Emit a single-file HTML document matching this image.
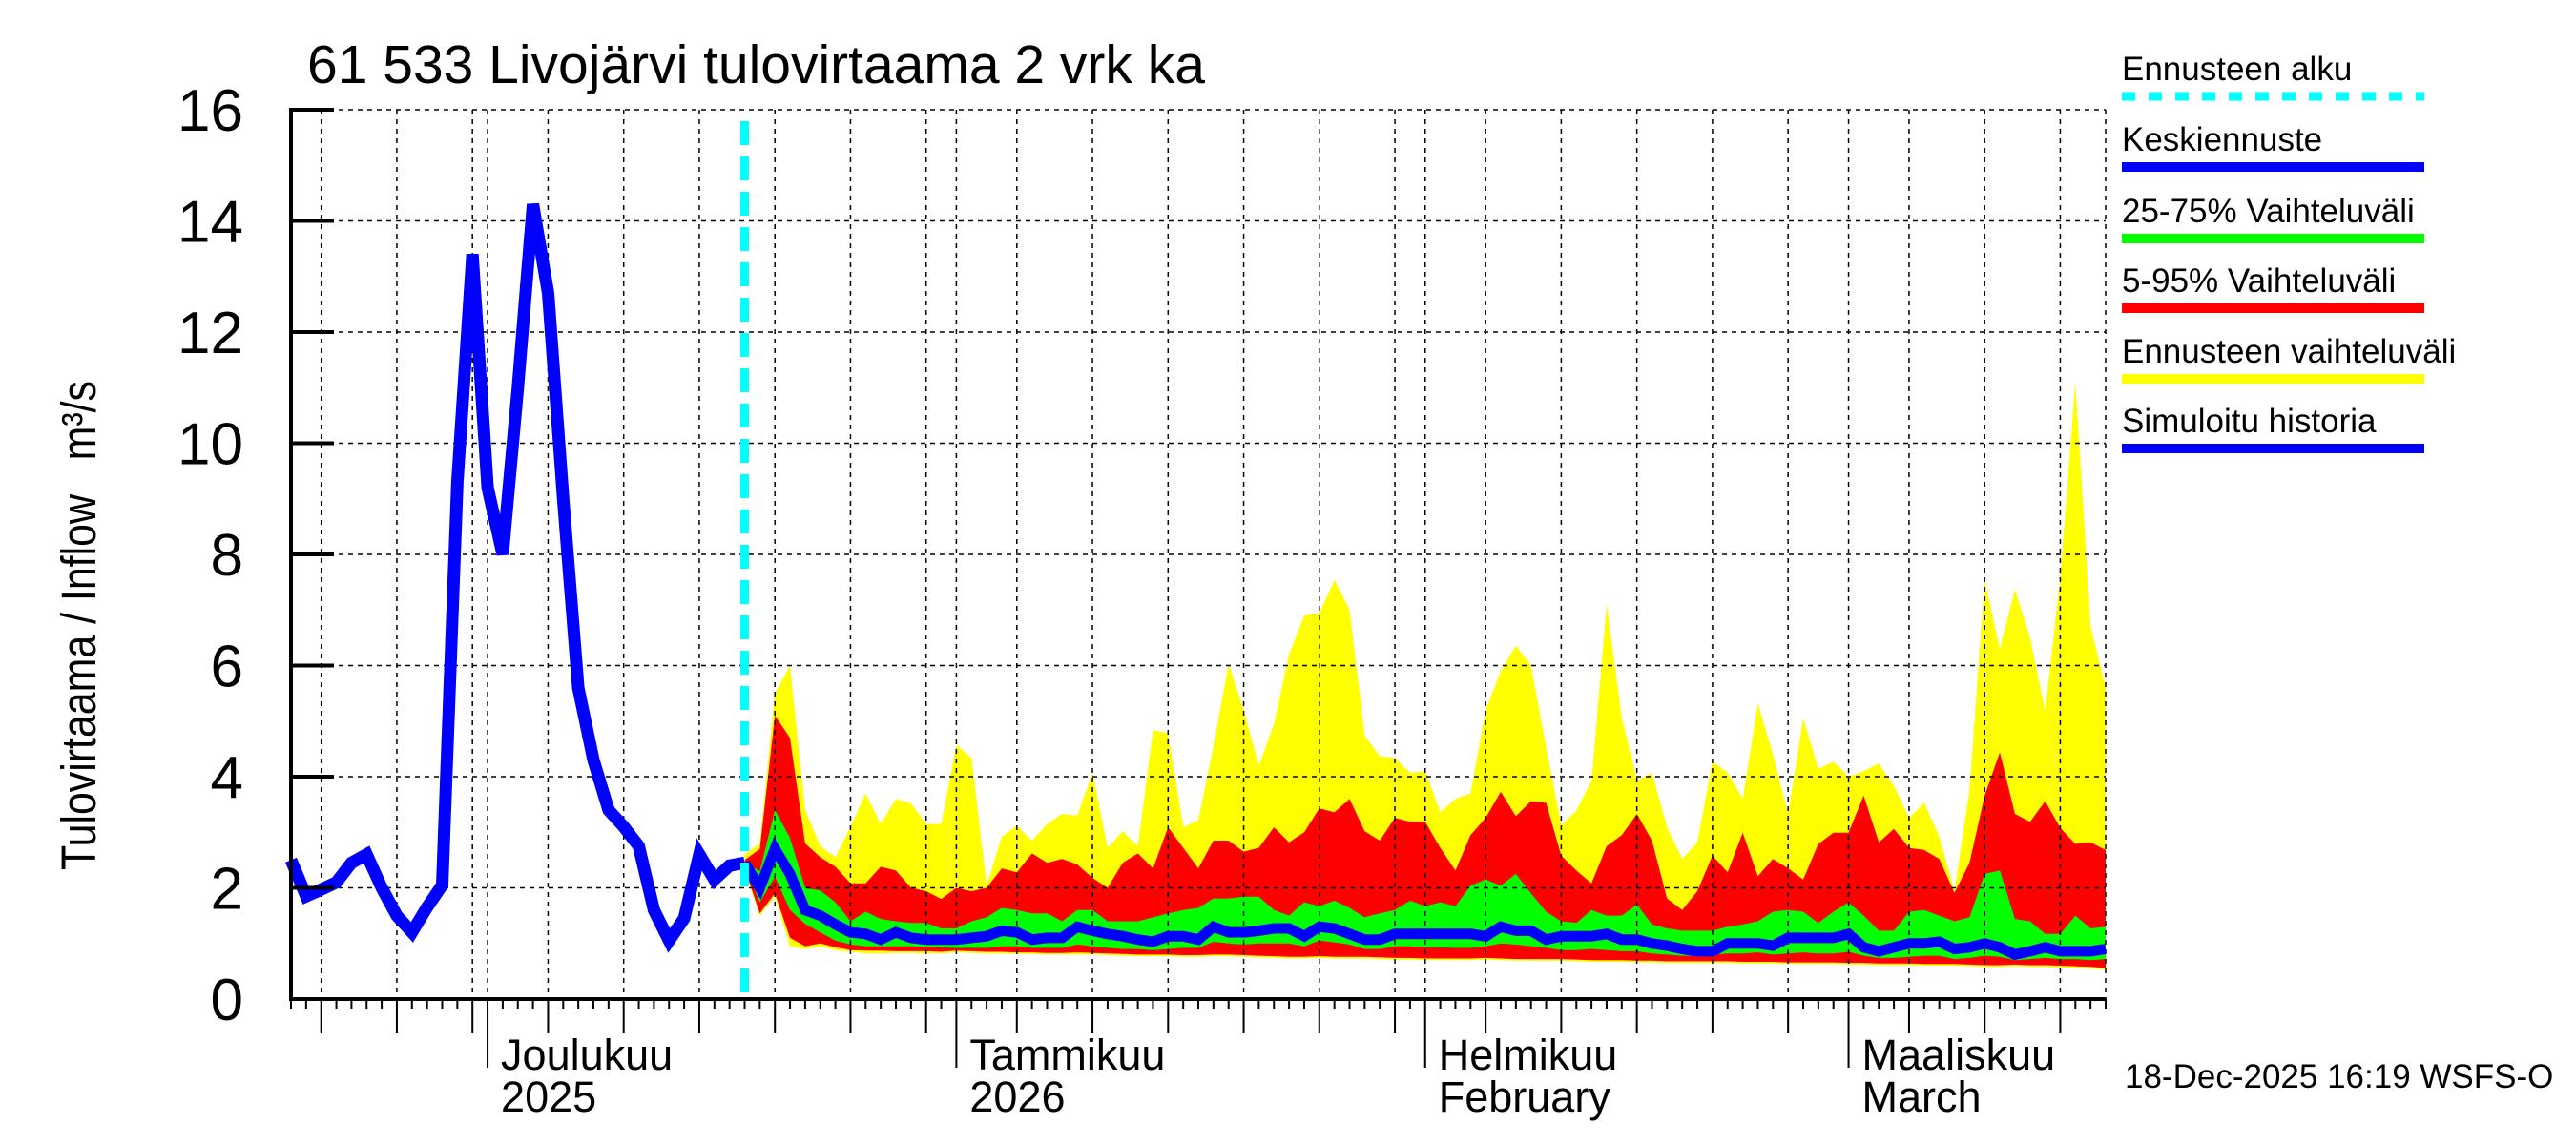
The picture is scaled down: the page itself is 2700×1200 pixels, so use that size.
<!DOCTYPE html>
<html><head><meta charset="utf-8"><style>
html,body{margin:0;padding:0;background:#fff;}
svg{display:block;font-family:"Liberation Sans",sans-serif;}
</style></head><body>
<svg id="chart" width="2700" height="1200" viewBox="0 0 2700 1200" xmlns="http://www.w3.org/2000/svg">
<rect width="2700" height="1200" fill="#fff"/>
<g id="bands"></g>
<g id="grid"></g>
<g id="lines"></g>
<g id="axes"></g>
<text x="322" y="87" font-size="57">61 533 Livojärvi tulovirtaama 2 vrk ka</text>
<text transform="translate(100,912) rotate(-90)" font-size="51" textLength="513" lengthAdjust="spacingAndGlyphs" xml:space="preserve">Tulovirtaama / Inflow   m³/s</text>
<g font-size="35">
 <text x="2224" y="84">Ennusteen alku</text>
 <line x1="2224" y1="101" x2="2541" y2="101" stroke="#00ffff" stroke-width="9" stroke-dasharray="14,14"/>
 <text x="2224" y="158">Keskiennuste</text>
 <line x1="2224" y1="175" x2="2541" y2="175" stroke="#0000ff" stroke-width="10"/>
 <text x="2224" y="233">25-75% Vaihteluväli</text>
 <line x1="2224" y1="250" x2="2541" y2="250" stroke="#00ff00" stroke-width="10"/>
 <text x="2224" y="306">5-95% Vaihteluväli</text>
 <line x1="2224" y1="323" x2="2541" y2="323" stroke="#ff0000" stroke-width="10"/>
 <text x="2224" y="380">Ennusteen vaihteluväli</text>
 <line x1="2224" y1="397" x2="2541" y2="397" stroke="#ffff00" stroke-width="10"/>
 <text x="2224" y="453">Simuloitu historia</text>
 <line x1="2224" y1="470" x2="2541" y2="470" stroke="#0000ff" stroke-width="10"/>
</g>
<text x="2227" y="1140" font-size="35">18-Dec-2025 16:19 WSFS-O</text>
</svg>
<script>
// day index 0 = 18 Nov 2025
const history = [2.5,1.85,1.97,2.1,2.45,2.6,2.0,1.5,1.2,1.65,
 2.05,9.3,13.4,9.2,8.0,11.0,14.3,12.7,9.0,5.6,
 4.3,3.4,3.1,2.75,1.6,1.05,1.45,2.6,2.15,2.4,2.45];
const forecastStartDay = 30;
const yMax = [2.6,2.8,5.5,6.0,3.4,2.75,2.55,3.1,3.7,3.15,
 3.6,3.52,3.15,3.15,4.57,4.34,2.04,2.92,3.12,2.85,
 3.15,3.33,3.3,4.07,2.72,3.02,2.75,4.84,4.78,3.09,
 3.22,4.54,6.03,5.2,4.2,4.95,6.2,6.9,6.94,7.54,
 7.0,4.74,4.37,4.34,4.07,4.1,3.36,3.6,3.7,5.2,
 5.9,6.36,6.0,4.54,3.12,3.39,3.93,7.1,5.08,3.93,
 4.07,3.09,2.52,2.82,4.27,4.07,3.6,5.32,4.4,3.33,
 5.05,4.14,4.27,4.0,4.1,4.24,3.83,3.26,3.53,2.92,
 1.94,3.77,7.54,6.3,7.37,6.5,5.18,7.6,11.1,6.7,5.6];
const rHigh = [2.5,2.7,5.1,4.7,2.8,2.55,2.38,2.08,2.08,2.38,
 2.31,2.0,1.94,1.8,2.0,1.94,2.0,2.35,2.28,2.62,
 2.45,2.52,2.42,2.18,2.0,2.45,2.62,2.35,3.09,2.72,
 2.35,2.85,2.85,2.65,2.72,3.09,2.82,3.0,3.43,3.36,
 3.6,3.02,2.85,3.26,3.19,3.19,2.72,2.31,2.95,3.26,
 3.73,3.29,3.56,3.53,2.58,2.31,2.08,2.75,2.95,3.33,
 2.85,1.81,1.6,1.94,2.58,2.28,2.99,2.21,2.52,2.35,
 2.15,2.79,2.99,2.99,3.66,2.82,3.06,2.72,2.68,2.52,
 1.91,2.45,3.66,4.44,3.33,3.19,3.56,3.08,2.79,2.82,2.68];
const gHigh = [2.45,2.3,3.4,2.9,2.0,1.95,1.74,1.4,1.57,1.44,
 1.4,1.37,1.37,1.27,1.27,1.4,1.47,1.64,1.6,1.54,
 1.54,1.4,1.6,1.6,1.4,1.4,1.4,1.47,1.54,1.6,
 1.64,1.81,1.81,1.84,1.84,1.6,1.5,1.74,1.67,1.77,
 1.64,1.47,1.54,1.6,1.77,1.67,1.74,1.67,2.04,2.15,
 2.04,2.25,1.9,1.57,1.4,1.37,1.6,1.5,1.5,1.7,
 1.34,1.27,1.23,1.23,1.23,1.3,1.34,1.4,1.57,1.6,
 1.57,1.37,1.57,1.74,1.5,1.23,1.23,1.57,1.6,1.5,
 1.4,1.47,2.25,2.31,1.44,1.4,1.17,1.17,1.5,1.27,1.3];
const gLow = [2.4,1.74,2.2,1.6,1.35,1.2,1.05,0.98,0.95,0.95,
 0.95,0.95,0.94,0.93,0.92,0.92,0.92,0.95,0.95,0.92,
 0.92,0.92,0.98,0.95,0.92,0.9,0.9,0.88,0.9,0.92,
 0.92,1.03,1.0,0.98,1.0,1.0,1.0,0.95,1.05,1.02,
 0.98,0.9,0.9,0.95,0.95,0.93,0.93,0.92,0.92,0.95,
 1.0,0.98,0.95,0.92,0.88,0.88,0.9,0.88,0.86,0.86,
 0.82,0.8,0.78,0.78,0.8,0.82,0.82,0.84,0.8,0.82,
 0.84,0.82,0.82,0.85,0.78,0.74,0.74,0.76,0.78,0.78,
 0.72,0.74,0.78,0.76,0.7,0.72,0.74,0.72,0.72,0.7,0.72];
const rLow = [2.35,1.54,1.9,1.1,0.95,1.0,0.93,0.88,0.87,0.87,
 0.86,0.86,0.86,0.85,0.87,0.86,0.85,0.85,0.84,0.84,
 0.83,0.83,0.84,0.83,0.82,0.81,0.8,0.8,0.8,0.79,
 0.79,0.8,0.8,0.79,0.78,0.77,0.76,0.76,0.77,0.76,
 0.76,0.76,0.75,0.74,0.74,0.73,0.73,0.73,0.73,0.74,
 0.73,0.72,0.72,0.72,0.72,0.71,0.7,0.7,0.7,0.69,
 0.69,0.68,0.68,0.68,0.68,0.68,0.67,0.67,0.67,0.66,
 0.66,0.66,0.66,0.65,0.65,0.64,0.64,0.64,0.63,0.63,
 0.63,0.62,0.61,0.61,0.62,0.61,0.61,0.6,0.59,0.58,0.56];
const yLow = [2.3,1.5,1.85,0.95,0.9,0.95,0.88,0.85,0.82,0.82,
 0.83,0.83,0.82,0.82,0.84,0.83,0.82,0.82,0.81,0.81,
 0.8,0.8,0.8,0.8,0.79,0.78,0.77,0.77,0.77,0.76,
 0.76,0.77,0.77,0.76,0.75,0.74,0.73,0.73,0.74,0.73,
 0.73,0.73,0.72,0.71,0.71,0.7,0.7,0.7,0.7,0.71,
 0.7,0.69,0.69,0.69,0.69,0.68,0.67,0.67,0.67,0.66,
 0.66,0.65,0.65,0.65,0.65,0.65,0.64,0.64,0.64,0.63,
 0.63,0.63,0.63,0.62,0.62,0.61,0.61,0.61,0.6,0.6,
 0.6,0.59,0.58,0.58,0.59,0.58,0.58,0.57,0.56,0.55,0.53];
const meanFc = [2.45,2.0,2.7,2.25,1.6,1.5,1.34,1.2,1.17,1.07,
 1.2,1.1,1.07,1.07,1.07,1.1,1.13,1.23,1.2,1.07,
 1.1,1.1,1.3,1.23,1.17,1.13,1.07,1.03,1.13,1.13,
 1.07,1.3,1.2,1.2,1.23,1.27,1.27,1.13,1.3,1.27,
 1.17,1.07,1.07,1.17,1.17,1.17,1.17,1.17,1.17,1.13,
 1.3,1.23,1.23,1.07,1.13,1.13,1.13,1.17,1.07,1.07,
 1.0,0.96,0.9,0.86,0.86,1.0,1.0,1.0,0.96,1.1,
 1.1,1.1,1.1,1.17,0.93,0.86,0.93,1.0,1.0,1.03,
 0.9,0.93,1.0,0.93,0.8,0.86,0.93,0.86,0.86,0.86,0.9];
const yTicks = [0,2,4,6,8,10,12,14,16];
const monthLabels = [["Joulukuu","2025"],["Tammikuu","2026"],["Helmikuu","February"],["Maaliskuu","March"]];
const monthStartDays = [13,44,75,103];
const gridDays = [2,7,12,17,22,27,32,37,42,48,53,58,63,68,73,79,84,89,94,99,107,112,117];
const totalDays = 120;

const NS="http://www.w3.org/2000/svg";
const X0=305, X1=2207, Y0=1047, Y16=115;
const x = d => X0 + d*(X1-X0)/totalDays;
const y = v => Y0 - v*(Y0-Y16)/16;
function mk(tag, attrs, parent){const e=document.createElementNS(NS,tag);for(const k in attrs)e.setAttribute(k,attrs[k]);parent.appendChild(e);return e;}
const bands=document.getElementById('bands'), grid=document.getElementById('grid'), lines=document.getElementById('lines'), axes=document.getElementById('axes');

function band(hi, lo, color, name){
  let pts=[];
  hi.forEach((v,i)=>pts.push(x(forecastStartDay+i).toFixed(1)+','+y(v).toFixed(1)));
  for(let i=lo.length-1;i>=0;i--) pts.push(x(forecastStartDay+i).toFixed(1)+','+y(lo[i]).toFixed(1));
  const p=mk('polygon',{points:pts.join(' '),fill:color},bands);
  
  
}
band(yMax,yLow,'#ffff00','band-forecast-range');
band(rHigh,rLow,'#ff0000','band-5-95');
band(gHigh,gLow,'#00ff00','band-25-75');

// grid
yTicks.forEach(v=>{ if(v===0) return;
  const l=mk('line',{x1:X0,x2:X1,y1:y(v),y2:y(v),stroke:'#000','stroke-width':1.5,'stroke-dasharray':'5,5'},grid);
  
  
});
gridDays.concat(monthStartDays).forEach(d=>{
  const l=mk('line',{x1:x(d),x2:x(d),y1:Y16,y2:Y0,stroke:'#000','stroke-width':1.5,'stroke-dasharray':'5,5'},grid);
  
  
});
const rb=mk('line',{x1:X1,x2:X1,y1:Y16,y2:Y0,stroke:'#000','stroke-width':1.5,'stroke-dasharray':'5,5'},grid);



// series
function poly(vals,start,width,name){
  const pts=vals.map((v,i)=>x(start+i).toFixed(1)+','+y(v).toFixed(1)).join(' ');
  const p=mk('polyline',{points:pts,fill:'none',stroke:'#0000ff','stroke-width':width,'stroke-linejoin':'miter','stroke-miterlimit':3},lines);
  
  
}
poly(meanFc,forecastStartDay,11,'mean-forecast-line');
poly(history,0,13,'simulated-history-line');
const fs=mk('line',{x1:x(forecastStartDay),x2:x(forecastStartDay),y1:Y16+12,y2:Y0,stroke:'#00ffff','stroke-width':9,'stroke-dasharray':'25,12'},lines);



// axes
const ax=mk('line',{x1:X0,x2:X1,y1:Y0,y2:Y0,stroke:'#000','stroke-width':4},axes);


const ay=mk('line',{x1:X0,x2:X0,y1:Y16-2,y2:Y0+2,stroke:'#000','stroke-width':4},axes);


yTicks.forEach(v=>{
  const t=mk('line',{x1:X0,x2:X0+45,y1:y(v),y2:y(v),stroke:'#000','stroke-width':4},axes);
  
  
  const tx=mk('text',{x:255,y:y(v)+22,'font-size':62,'text-anchor':'end'},axes);
  tx.textContent=String(v);
  
  
});
for(let d=0; d<=totalDays; d++){
  let len=10;
  if(gridDays.includes(d)) len=36;
  if(monthStartDays.includes(d)) len=72;
  const t=mk('line',{x1:x(d),x2:x(d),y1:Y0,y2:Y0+len,stroke:'#000','stroke-width':2},axes);
  
  
}
monthLabels.forEach((m,i)=>{
  const t1=mk('text',{x:x(monthStartDays[i])+14,y:1121,'font-size':45},axes);
  t1.textContent=m[0];
  
  
  const t2=mk('text',{x:x(monthStartDays[i])+14,y:1165,'font-size':45},axes);
  t2.textContent=m[1];
  
  
});
</script>
</body></html>
